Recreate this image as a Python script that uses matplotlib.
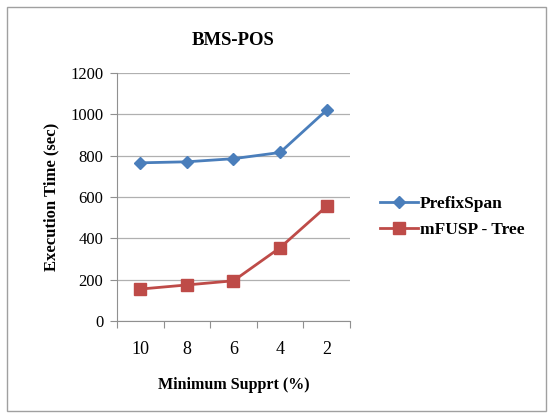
import matplotlib.pyplot as plt
from matplotlib.patches import Rectangle

# data
support = ['10', '8', '6', '4', '2']
prefixspan = [765, 770, 785, 815, 1020]
mfusp_tree = [155, 175, 195, 355, 555]
yticks = [0, 200, 400, 600, 800, 1000, 1200]

plt.rcParams['font.family'] = ['Liberation Serif', 'DejaVu Serif']

fig = plt.figure(figsize=(5.52, 4.16), dpi=100)
fig.patches.append(Rectangle((0.013, 0.012), 0.977, 0.972, transform=fig.transFigure,
                             fill=False, edgecolor='#a0a0a0', linewidth=1.0))

ax = fig.add_axes([0.212, 0.228, 0.422, 0.597])
x = list(range(len(support)))
ax.plot(x, prefixspan, color='#4a7ebb', linewidth=2, marker='D', markersize=6,
        markerfacecolor='#4a7ebb', markeredgecolor='#4a7ebb', label='PrefixSpan')
ax.plot(x, mfusp_tree, color='#be4b48', linewidth=2, marker='s', markersize=8,
        markerfacecolor='#be4b48', markeredgecolor='#be4b48', label='mFUSP - Tree')

ax.set_xlim(-0.5, len(support) - 0.5)
ax.set_ylim(0, 1200)
ax.set_yticks(yticks)
ax.set_yticklabels([str(v) for v in yticks], fontsize=12)
ax.yaxis.grid(True, color='#b0b0b0', linewidth=0.9)
ax.set_axisbelow(True)

# category labels centred, tick marks between categories
ax.set_xticks([i - 0.5 for i in range(len(support) + 1)])
ax.set_xticklabels([])
ax.set_xticks(x, minor=True)
ax.set_xticklabels(support, minor=True, fontsize=13)
ax.tick_params(axis='x', which='major', length=5, color='#909090', direction='out')
ax.tick_params(axis='x', which='minor', length=0, pad=14)
ax.tick_params(axis='y', length=5, color='#909090', pad=5)

for s in ['top', 'right']:
    ax.spines[s].set_visible(False)
for s in ['left', 'bottom']:
    ax.spines[s].set_color('#909090')

ax.set_title('BMS-POS', fontsize=13.5, fontweight='bold', pad=20)
ax.set_ylabel('Execution Time (sec)', fontsize=12, fontweight='bold', labelpad=8)
ax.set_xlabel('Minimum Supprt (%)', fontsize=11.5, fontweight='bold', labelpad=14)

ax.legend(loc='center left', bbox_to_anchor=(1.06, 0.42), frameon=False,
          prop={'size': 12.5, 'weight': 'bold'}, handlelength=2.2, handletextpad=0.1,
          labelspacing=0.6)

fig.savefig('out.png', dpi=100)
